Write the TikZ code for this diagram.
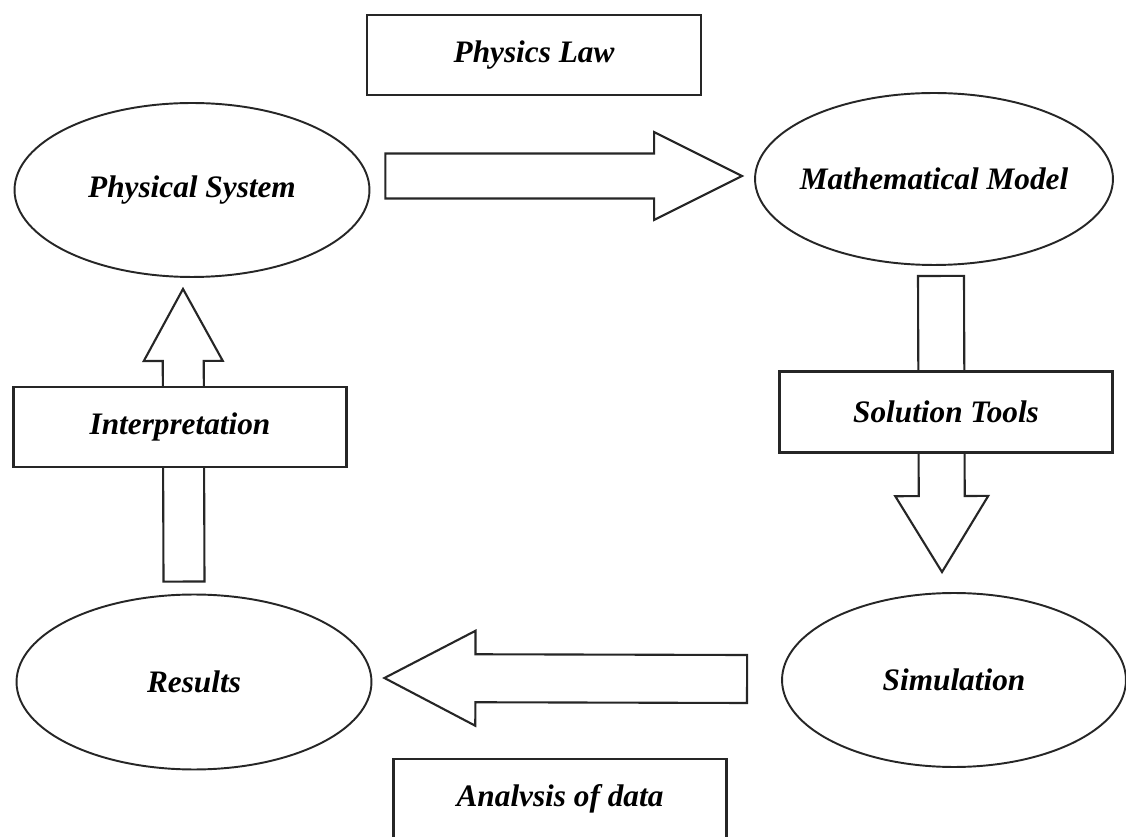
\documentclass[tikz,border=0pt]{standalone}
\usepackage{fontspec}
\setmainfont{Liberation Serif}
\usetikzlibrary{shapes.geometric, positioning, calc}
\definecolor{LineGray}{HTML}{262626}

% hollow block arrow: start, tip, shaft half-width, head half-width, head length
\newcommand{\fatarrow}[5]{%
  \coordinate (hb) at ($(#2)!#5!(#1)$);
  \draw[fatarr] ($(#1)!#3!90:(#2)$) -- ($(hb)!#3!-90:(#1)$) -- ($(hb)!#4!-90:(#1)$)
    -- (#2) -- ($(hb)!#4!90:(#1)$) -- ($(hb)!#3!90:(#1)$) -- ($(#1)!#3!-90:(#2)$) -- cycle;
}

\begin{document}
\begin{tikzpicture}[
  x=0.02cm, y=-0.02cm,
  every node/.style = {font=\fontsize{17.8}{20}\selectfont\bfseries\itshape},
  oval/.style   = {ellipse, draw=LineGray, line width=1.1pt, inner xsep=-0.6cm, inner ysep=0pt,
                   minimum width=7.1cm, minimum height=3.48cm},
  labbox/.style = {rectangle, draw=LineGray, line width=1.2pt, fill=white,
                   minimum width=6.66cm, minimum height=1.6cm},
  fatarr/.style = {draw=LineGray, line width=1.2pt, fill=white, line join=miter},
]
\useasboundingbox (0,0) rectangle (1126,837);

% Ellipses
\node[oval] (phys) at (192,190) {Physical System};
\node[oval, minimum width=7.16cm, minimum height=3.44cm] (math) at (934,179) {Mathematical Model};
\node[oval, minimum height=3.5cm] (res) at (194,682) {Results};
\node[oval, minimum width=6.88cm] (sim) at (954,680) {Simulation};

% Arrow ends
\coordinate (ps-out) at ($(phys.east)+(15,-14)$);
\coordinate (mm-in)  at ($(math.west)+(-12,-3)$);
\coordinate (mm-out) at ($(math.south)+(7,10)$);
\coordinate (sm-in)  at ($(sim.north)+(-12,-20)$);
\coordinate (sm-out) at ($(sim.west)+(-34,-1)$);
\coordinate (rs-in)  at ($(res.east)+(12,-4)$);
\coordinate (rs-out) at ($(res.north)+(-10,-12)$);
\coordinate (ps-in)  at ($(phys.south)+(-9,11)$);

% Arrows
\fatarrow{ps-out}{mm-in}{0.45cm}{0.88cm}{1.76cm}
\fatarrow{mm-out}{sm-in}{0.46cm}{0.93cm}{1.52cm}
\fatarrow{sm-out}{rs-in}{0.48cm}{0.95cm}{1.82cm}
\fatarrow{rs-out}{ps-in}{0.41cm}{0.79cm}{1.44cm}

% Boxes
\node[labbox, minimum width=6.68cm] (law) at (534,55) {Physics Law};
\node[labbox, minimum height=1.62cm] (tools) at (946,412) {Solution Tools};
\node[labbox] (interp) at (180,427) {Interpretation};
\node[labbox] (anal) at (560,799) {Analvsis of data};

\end{tikzpicture}
\end{document}
